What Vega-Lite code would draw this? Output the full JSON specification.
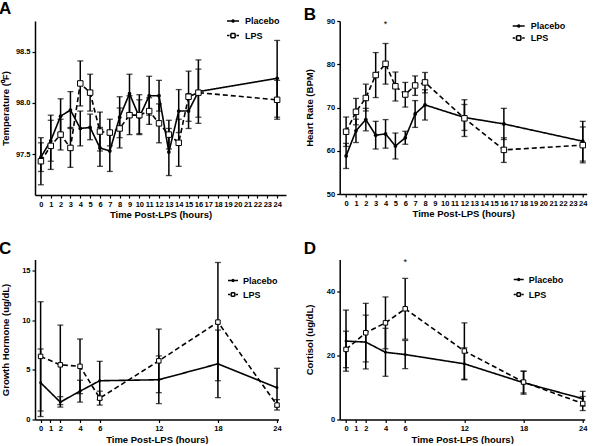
{
  "$schema": "https://vega.github.io/schema/vega-lite/v6.json",
  "padding": {"left": -1, "top": 0, "right": 0, "bottom": 0},
  "bounds": "flush",
  "columns": 2,
  "spacing": {"row": 64.5, "column": 53.7},
  "datasets": {
    "A": [
      {"t": 0, "g": "Placebo", "m": 97.47, "lo": 97.33, "hi": 97.61},
      {"t": 1, "g": "Placebo", "m": 97.63, "lo": 97.35, "hi": 97.88},
      {"t": 2, "g": "Placebo", "m": 97.87, "lo": 97.7, "hi": 98.04},
      {"t": 3, "g": "Placebo", "m": 97.93, "lo": 97.75, "hi": 98.11},
      {"t": 4, "g": "Placebo", "m": 97.75, "lo": 97.58, "hi": 97.92},
      {"t": 5, "g": "Placebo", "m": 97.76, "lo": 97.64, "hi": 97.89},
      {"t": 6, "g": "Placebo", "m": 97.56, "lo": 97.38, "hi": 97.76},
      {"t": 7, "g": "Placebo", "m": 97.53, "lo": 97.33, "hi": 97.73},
      {"t": 8, "g": "Placebo", "m": 97.86, "lo": 97.66, "hi": 98.06},
      {"t": 9, "g": "Placebo", "m": 98.09, "lo": 97.9, "hi": 98.28},
      {"t": 10, "g": "Placebo", "m": 97.86, "lo": 97.69, "hi": 98.03},
      {"t": 11, "g": "Placebo", "m": 98.07, "lo": 97.88, "hi": 98.26},
      {"t": 12, "g": "Placebo", "m": 98.07, "lo": 97.92, "hi": 98.22},
      {"t": 13, "g": "Placebo", "m": 97.52, "lo": 97.29, "hi": 97.75},
      {"t": 14, "g": "Placebo", "m": 97.92, "lo": 97.71, "hi": 98.13},
      {"t": 15, "g": "Placebo", "m": 97.92, "lo": 97.75, "hi": 98.09},
      {"t": 16, "g": "Placebo", "m": 98.11, "lo": 97.8, "hi": 98.42},
      {"t": 24, "g": "Placebo", "m": 98.24, "lo": 97.86, "hi": 98.61},
      {"t": 0, "g": "LPS", "m": 97.43, "lo": 97.2, "hi": 97.66},
      {"t": 1, "g": "LPS", "m": 97.58, "lo": 97.43, "hi": 97.83},
      {"t": 2, "g": "LPS", "m": 97.69, "lo": 97.54, "hi": 97.84},
      {"t": 3, "g": "LPS", "m": 97.56, "lo": 97.37, "hi": 97.76},
      {"t": 4, "g": "LPS", "m": 98.19, "lo": 97.97, "hi": 98.41},
      {"t": 5, "g": "LPS", "m": 98.1, "lo": 97.92, "hi": 98.28},
      {"t": 6, "g": "LPS", "m": 97.72, "lo": 97.53, "hi": 97.91},
      {"t": 7, "g": "LPS", "m": 97.71, "lo": 97.58, "hi": 97.84},
      {"t": 8, "g": "LPS", "m": 97.75, "lo": 97.56, "hi": 97.95},
      {"t": 9, "g": "LPS", "m": 97.88, "lo": 97.69, "hi": 98.07},
      {"t": 10, "g": "LPS", "m": 97.88, "lo": 97.7, "hi": 98.08},
      {"t": 11, "g": "LPS", "m": 97.92, "lo": 97.79, "hi": 98.05},
      {"t": 12, "g": "LPS", "m": 97.8, "lo": 97.61, "hi": 97.99},
      {"t": 13, "g": "LPS", "m": 97.69, "lo": 97.55, "hi": 97.83},
      {"t": 14, "g": "LPS", "m": 97.61, "lo": 97.38, "hi": 97.84},
      {"t": 15, "g": "LPS", "m": 98.06, "lo": 97.82, "hi": 98.31},
      {"t": 16, "g": "LPS", "m": 98.1, "lo": 97.86, "hi": 98.33},
      {"t": 24, "g": "LPS", "m": 98.03, "lo": 97.84, "hi": 98.22}
    ],
    "B": [
      {"t": 0, "g": "Placebo", "m": 58.8, "lo": 55.9, "hi": 61.7},
      {"t": 1, "g": "Placebo", "m": 64.6, "lo": 61.9, "hi": 67.3},
      {"t": 2, "g": "Placebo", "m": 67.2, "lo": 64.6, "hi": 69.8},
      {"t": 3, "g": "Placebo", "m": 63.6, "lo": 60.4, "hi": 66.8},
      {"t": 4, "g": "Placebo", "m": 63.9, "lo": 60.6, "hi": 67.2},
      {"t": 5, "g": "Placebo", "m": 61.1, "lo": 58.1, "hi": 64.1},
      {"t": 6, "g": "Placebo", "m": 63.0, "lo": 61.5, "hi": 64.5},
      {"t": 7, "g": "Placebo", "m": 68.5, "lo": 65.4, "hi": 71.6},
      {"t": 8, "g": "Placebo", "m": 70.6, "lo": 67.1, "hi": 74.1},
      {"t": 12, "g": "Placebo", "m": 67.7, "lo": 64.7, "hi": 70.7},
      {"t": 16, "g": "Placebo", "m": 66.2, "lo": 62.6, "hi": 69.8},
      {"t": 24, "g": "Placebo", "m": 62.2, "lo": 57.6, "hi": 66.8},
      {"t": 0, "g": "LPS", "m": 64.4, "lo": 61.0, "hi": 67.8},
      {"t": 1, "g": "LPS", "m": 69.0, "lo": 66.0, "hi": 72.1},
      {"t": 2, "g": "LPS", "m": 72.2, "lo": 69.2, "hi": 75.4},
      {"t": 3, "g": "LPS", "m": 77.5, "lo": 72.3, "hi": 82.7},
      {"t": 4, "g": "LPS", "m": 80.1, "lo": 75.4, "hi": 84.8},
      {"t": 5, "g": "LPS", "m": 74.9, "lo": 71.5, "hi": 78.2},
      {"t": 6, "g": "LPS", "m": 73.0, "lo": 70.1, "hi": 75.8},
      {"t": 7, "g": "LPS", "m": 75.1, "lo": 72.8, "hi": 77.3},
      {"t": 8, "g": "LPS", "m": 75.8, "lo": 73.4, "hi": 78.1},
      {"t": 12, "g": "LPS", "m": 67.5, "lo": 63.3, "hi": 71.8},
      {"t": 16, "g": "LPS", "m": 60.2, "lo": 57.3, "hi": 63.0},
      {"t": 24, "g": "LPS", "m": 61.3, "lo": 57.2, "hi": 65.5}
    ],
    "C": [
      {"t": 0, "g": "Placebo", "m": 3.7, "lo": 0.3, "hi": 7.1},
      {"t": 2, "g": "Placebo", "m": 1.75, "lo": 1.25, "hi": 2.3},
      {"t": 4, "g": "Placebo", "m": 2.85, "lo": 1.75, "hi": 3.95},
      {"t": 6, "g": "Placebo", "m": 3.9, "lo": 2.0, "hi": 5.85},
      {"t": 12, "g": "Placebo", "m": 4.0, "lo": 1.6, "hi": 6.4},
      {"t": 18, "g": "Placebo", "m": 5.6, "lo": 2.2, "hi": 9.0},
      {"t": 24, "g": "Placebo", "m": 3.2, "lo": 1.3, "hi": 5.15},
      {"t": 0, "g": "LPS", "m": 6.35, "lo": 0.85, "hi": 11.85},
      {"t": 2, "g": "LPS", "m": 5.5, "lo": 1.5, "hi": 9.5},
      {"t": 4, "g": "LPS", "m": 5.35, "lo": 2.6, "hi": 8.1},
      {"t": 6, "g": "LPS", "m": 2.15, "lo": 1.45, "hi": 2.85},
      {"t": 12, "g": "LPS", "m": 5.9, "lo": 2.7, "hi": 9.1},
      {"t": 18, "g": "LPS", "m": 9.8, "lo": 3.9, "hi": 15.8},
      {"t": 24, "g": "LPS", "m": 1.45, "lo": 0.95, "hi": 2.0}
    ],
    "D": [
      {"t": 0, "g": "Placebo", "m": 24.5, "lo": 15.1, "hi": 34.2},
      {"t": 2, "g": "Placebo", "m": 24.2, "lo": 15.8, "hi": 32.6},
      {"t": 4, "g": "Placebo", "m": 21.0, "lo": 13.5, "hi": 28.5},
      {"t": 6, "g": "Placebo", "m": 20.3, "lo": 15.9, "hi": 24.7},
      {"t": 12, "g": "Placebo", "m": 17.4, "lo": 12.4, "hi": 22.4},
      {"t": 18, "g": "Placebo", "m": 11.5, "lo": 7.9, "hi": 15.1},
      {"t": 24, "g": "Placebo", "m": 6.5, "lo": 4.2, "hi": 8.8},
      {"t": 0, "g": "LPS", "m": 21.9, "lo": 16.2, "hi": 27.6},
      {"t": 2, "g": "LPS", "m": 27.1, "lo": 18.0, "hi": 36.3},
      {"t": 4, "g": "LPS", "m": 30.2, "lo": 22.1, "hi": 38.3},
      {"t": 6, "g": "LPS", "m": 34.6, "lo": 25.1, "hi": 44.1},
      {"t": 12, "g": "LPS", "m": 21.4, "lo": 12.6, "hi": 30.2},
      {"t": 18, "g": "LPS", "m": 11.7, "lo": 8.3, "hi": 15.1},
      {"t": 24, "g": "LPS", "m": 5.0, "lo": 2.8, "hi": 7.2}
    ]
  },
  "concat": [
    {
      "width": 251, "height": 174,
      "title": {"text": "A", "anchor": "start", "frame": "group", "dx": -36, "offset": -4, "fontSize": 17, "fontWeight": "bold", "font": "Liberation Sans", "color": "black"},
      "data": {"name": "A"},
      "encoding": {
        "x": {"field": "t", "type": "quantitative", "title": "Time Post-LPS (hours)",
              "scale": {"domain": [-0.6, 24.9], "nice": false, "zero": false},
              "axis": {"values": [0,1,2,3,4,5,6,7,8,9,10,11,12,13,14,15,16,17,18,19,20,21,22,23,24], "format": "d"}}
      },
      "layer": [
        {"mark": {"type": "rule", "color": "black", "strokeWidth": 1.5},
         "encoding": {"y": {"field": "lo", "type": "quantitative", "title": "Temperature (⁰F)", "scale": {"domain": [97.1, 98.8], "nice": false, "zero": false}, "axis": {"values": [97.5, 98.0, 98.5], "format": ".1f"}}, "y2": {"field": "hi"}}},
        {"mark": {"type": "tick", "orient": "horizontal", "color": "black", "size": 6, "thickness": 1.3},
         "encoding": {"y": {"field": "lo", "type": "quantitative", "title": "Temperature (⁰F)"}}},
        {"mark": {"type": "tick", "orient": "horizontal", "color": "black", "size": 6, "thickness": 1.3},
         "encoding": {"y": {"field": "hi", "type": "quantitative", "title": "Temperature (⁰F)"}}},
        {"mark": {"type": "line", "color": "black", "strokeWidth": 1.6},
         "encoding": {"y": {"field": "m", "type": "quantitative", "title": "Temperature (⁰F)"},
                      "strokeDash": {"field": "g", "type": "nominal", "scale": {"domain": ["Placebo", "LPS"], "range": [[1, 0], [5, 3]]},
                        "legend": {"title": null, "orient": "none", "legendX": 191, "legendY": -7, "symbolSize": 144, "rowPadding": 2.6, "labelOffset": 5}}}},
        {"transform": [{"filter": "datum.g === 'Placebo'"}],
         "mark": {"type": "point", "shape": "circle", "filled": true, "color": "black", "size": 14, "opacity": 1},
         "encoding": {"y": {"field": "m", "type": "quantitative", "title": "Temperature (⁰F)"}}},
        {"transform": [{"filter": "datum.g === 'LPS'"}],
         "mark": {"type": "point", "shape": "square", "fill": "white", "stroke": "black", "strokeWidth": 1, "size": 30, "opacity": 1},
         "encoding": {"y": {"field": "m", "type": "quantitative", "title": "Temperature (⁰F)"}}},
        {"transform": [{"filter": "false"}],
         "mark": {"type": "point", "filled": false, "color": "black", "strokeWidth": 1.5, "opacity": 1},
         "encoding": {"y": {"field": "m", "type": "quantitative", "title": "Temperature (⁰F)"},
                      "shape": {"field": "g", "type": "nominal", "scale": {"domain": ["Placebo", "LPS"], "range": ["M-1,0H1M-0.17,0A0.17,0.17,0,1,1,0.17,0A0.17,0.17,0,1,1,-0.17,0Z", "M-1,0H-0.58M0.58,0H1M-0.36,-0.36H0.36M0.36,-0.36V0.36M0.36,0.36H-0.36M-0.36,0.36V-0.36"]},
                        "legend": {"title": null, "orient": "none", "legendX": 191, "legendY": -7, "symbolSize": 144, "rowPadding": 2.6, "labelOffset": 5}}}}
      ]
    },
    {
      "width": 247, "height": 173,
      "title": {"text": "B", "anchor": "start", "frame": "group", "dx": -36, "offset": -7, "fontSize": 17, "fontWeight": "bold", "font": "Liberation Sans", "color": "black"},
      "data": {"name": "B"},
      "encoding": {
        "x": {"field": "t", "type": "quantitative", "title": "Time Post-LPS (hours)",
              "scale": {"domain": [-0.65, 24.4], "nice": false, "zero": false},
              "axis": {"values": [0,1,2,3,4,5,6,7,8,9,10,11,12,13,14,15,16,17,18,19,20,21,22,23,24], "format": "d"}}
      },
      "layer": [
        {"mark": {"type": "rule", "color": "black", "strokeWidth": 1.5},
         "encoding": {"y": {"field": "lo", "type": "quantitative", "title": "Heart Rate  (BPM)", "scale": {"domain": [50, 90], "nice": false, "zero": false}, "axis": {"values": [50, 60, 70, 80, 90]}}, "y2": {"field": "hi"}}},
        {"mark": {"type": "tick", "orient": "horizontal", "color": "black", "size": 6, "thickness": 1.3},
         "encoding": {"y": {"field": "lo", "type": "quantitative", "title": "Heart Rate  (BPM)"}}},
        {"mark": {"type": "tick", "orient": "horizontal", "color": "black", "size": 6, "thickness": 1.3},
         "encoding": {"y": {"field": "hi", "type": "quantitative", "title": "Heart Rate  (BPM)"}}},
        {"mark": {"type": "line", "color": "black", "strokeWidth": 1.6},
         "encoding": {"y": {"field": "m", "type": "quantitative", "title": "Heart Rate  (BPM)"},
                      "strokeDash": {"field": "g", "type": "nominal", "scale": {"domain": ["Placebo", "LPS"], "range": [[1, 0], [5, 3]]},
                        "legend": {"title": null, "orient": "none", "legendX": 172, "legendY": -2, "symbolSize": 144, "rowPadding": 0, "labelOffset": 5}}}},
        {"transform": [{"filter": "datum.g === 'Placebo'"}],
         "mark": {"type": "point", "shape": "circle", "filled": true, "color": "black", "size": 14, "opacity": 1},
         "encoding": {"y": {"field": "m", "type": "quantitative", "title": "Heart Rate  (BPM)"}}},
        {"transform": [{"filter": "datum.g === 'LPS'"}],
         "mark": {"type": "point", "shape": "square", "fill": "white", "stroke": "black", "strokeWidth": 1, "size": 30, "opacity": 1},
         "encoding": {"y": {"field": "m", "type": "quantitative", "title": "Heart Rate  (BPM)"}}},
        {"transform": [{"filter": "false"}],
         "mark": {"type": "point", "filled": false, "color": "black", "strokeWidth": 1.5, "opacity": 1},
         "encoding": {"y": {"field": "m", "type": "quantitative", "title": "Heart Rate  (BPM)"},
                      "shape": {"field": "g", "type": "nominal", "scale": {"domain": ["Placebo", "LPS"], "range": ["M-1,0H1M-0.17,0A0.17,0.17,0,1,1,0.17,0A0.17,0.17,0,1,1,-0.17,0Z", "M-1,0H-0.58M0.58,0H1M-0.36,-0.36H0.36M0.36,-0.36V0.36M0.36,0.36H-0.36M-0.36,0.36V-0.36"]},
                        "legend": {"title": null, "orient": "none", "legendX": 172, "legendY": -2, "symbolSize": 144, "rowPadding": 0, "labelOffset": 5}}}},
        {"data": {"values": [{"t": 4, "v": 89.4, "s": "*"}]},
         "mark": {"type": "text", "fontSize": 9, "font": "Liberation Sans", "color": "black", "baseline": "middle"},
         "encoding": {"y": {"field": "v", "type": "quantitative", "title": "Heart Rate  (BPM)"}, "text": {"field": "s"}}}
      ]
    },
    {
      "width": 243.5, "height": 160,
      "title": {"text": "C", "anchor": "start", "frame": "group", "dx": -36, "offset": 1.5, "fontSize": 17, "fontWeight": "bold", "font": "Liberation Sans", "color": "black"},
      "data": {"name": "C"},
      "encoding": {
        "x": {"field": "t", "type": "quantitative", "title": "Time Post-LPS (hours)",
              "scale": {"domain": [-0.57, 24.15], "nice": false, "zero": false},
              "axis": {"values": [0, 1, 2, 4, 6, 12, 18, 24], "format": "d"}}
      },
      "layer": [
        {"mark": {"type": "rule", "color": "black", "strokeWidth": 1.5},
         "encoding": {"y": {"field": "lo", "type": "quantitative", "title": "Growth Hormone (ug/dL)", "scale": {"domain": [0, 16.1], "nice": false, "zero": false}, "axis": {"values": [0, 5, 10, 15]}}, "y2": {"field": "hi"}}},
        {"mark": {"type": "tick", "orient": "horizontal", "color": "black", "size": 6, "thickness": 1.3},
         "encoding": {"y": {"field": "lo", "type": "quantitative", "title": "Growth Hormone (ug/dL)"}}},
        {"mark": {"type": "tick", "orient": "horizontal", "color": "black", "size": 6, "thickness": 1.3},
         "encoding": {"y": {"field": "hi", "type": "quantitative", "title": "Growth Hormone (ug/dL)"}}},
        {"mark": {"type": "line", "color": "black", "strokeWidth": 1.6},
         "encoding": {"y": {"field": "m", "type": "quantitative", "title": "Growth Hormone (ug/dL)"},
                      "strokeDash": {"field": "g", "type": "nominal", "scale": {"domain": ["Placebo", "LPS"], "range": [[1, 0], [5, 3]]},
                        "legend": {"title": null, "orient": "none", "legendX": 192, "legendY": 15, "symbolSize": 100, "rowPadding": 3, "labelOffset": 4}}}},
        {"transform": [{"filter": "datum.g === 'Placebo'"}],
         "mark": {"type": "point", "shape": "circle", "filled": true, "color": "black", "size": 8, "opacity": 1},
         "encoding": {"y": {"field": "m", "type": "quantitative", "title": "Growth Hormone (ug/dL)"}}},
        {"transform": [{"filter": "datum.g === 'LPS'"}],
         "mark": {"type": "point", "shape": "square", "fill": "white", "stroke": "black", "strokeWidth": 1, "size": 20, "opacity": 1},
         "encoding": {"y": {"field": "m", "type": "quantitative", "title": "Growth Hormone (ug/dL)"}}},
        {"transform": [{"filter": "false"}],
         "mark": {"type": "point", "filled": false, "color": "black", "strokeWidth": 1.3, "opacity": 1},
         "encoding": {"y": {"field": "m", "type": "quantitative", "title": "Growth Hormone (ug/dL)"},
                      "shape": {"field": "g", "type": "nominal", "scale": {"domain": ["Placebo", "LPS"], "range": ["M-1,0H1M-0.18,0A0.18,0.18,0,1,1,0.18,0A0.18,0.18,0,1,1,-0.18,0Z", "M-1,0H-0.58M0.58,0H1M-0.36,-0.36H0.36M0.36,-0.36V0.36M0.36,0.36H-0.36M-0.36,0.36V-0.36"]},
                        "legend": {"title": null, "orient": "none", "legendX": 192, "legendY": 15, "symbolSize": 100, "rowPadding": 3, "labelOffset": 4}}}}
      ]
    },
    {
      "width": 245, "height": 160,
      "title": {"text": "D", "anchor": "start", "frame": "group", "dx": -36, "offset": 0.5, "fontSize": 17, "fontWeight": "bold", "font": "Liberation Sans", "color": "black"},
      "data": {"name": "D"},
      "encoding": {
        "x": {"field": "t", "type": "quantitative", "title": "Time Post-LPS (hours)",
              "scale": {"domain": [-0.64, 24.2], "nice": false, "zero": false},
              "axis": {"values": [0, 1, 2, 4, 6, 12, 18, 24], "format": "d"}}
      },
      "layer": [
        {"mark": {"type": "rule", "color": "black", "strokeWidth": 1.5},
         "encoding": {"y": {"field": "lo", "type": "quantitative", "title": "Cortisol (ug/dL)", "scale": {"domain": [0, 50], "nice": false, "zero": false}, "axis": {"values": [0, 10, 20, 30, 40, 50]}}, "y2": {"field": "hi"}}},
        {"mark": {"type": "tick", "orient": "horizontal", "color": "black", "size": 6, "thickness": 1.3},
         "encoding": {"y": {"field": "lo", "type": "quantitative", "title": "Cortisol (ug/dL)"}}},
        {"mark": {"type": "tick", "orient": "horizontal", "color": "black", "size": 6, "thickness": 1.3},
         "encoding": {"y": {"field": "hi", "type": "quantitative", "title": "Cortisol (ug/dL)"}}},
        {"mark": {"type": "line", "color": "black", "strokeWidth": 1.6},
         "encoding": {"y": {"field": "m", "type": "quantitative", "title": "Cortisol (ug/dL)"},
                      "strokeDash": {"field": "g", "type": "nominal", "scale": {"domain": ["Placebo", "LPS"], "range": [[1, 0], [5, 3]]},
                        "legend": {"title": null, "orient": "none", "legendX": 173, "legendY": 14, "symbolSize": 100, "rowPadding": 4, "labelOffset": 4}}}},
        {"transform": [{"filter": "datum.g === 'Placebo'"}],
         "mark": {"type": "point", "shape": "circle", "filled": true, "color": "black", "size": 8, "opacity": 1},
         "encoding": {"y": {"field": "m", "type": "quantitative", "title": "Cortisol (ug/dL)"}}},
        {"transform": [{"filter": "datum.g === 'LPS'"}],
         "mark": {"type": "point", "shape": "square", "fill": "white", "stroke": "black", "strokeWidth": 1, "size": 20, "opacity": 1},
         "encoding": {"y": {"field": "m", "type": "quantitative", "title": "Cortisol (ug/dL)"}}},
        {"transform": [{"filter": "false"}],
         "mark": {"type": "point", "filled": false, "color": "black", "strokeWidth": 1.3, "opacity": 1},
         "encoding": {"y": {"field": "m", "type": "quantitative", "title": "Cortisol (ug/dL)"},
                      "shape": {"field": "g", "type": "nominal", "scale": {"domain": ["Placebo", "LPS"], "range": ["M-1,0H1M-0.18,0A0.18,0.18,0,1,1,0.18,0A0.18,0.18,0,1,1,-0.18,0Z", "M-1,0H-0.58M0.58,0H1M-0.36,-0.36H0.36M0.36,-0.36V0.36M0.36,0.36H-0.36M-0.36,0.36V-0.36"]},
                        "legend": {"title": null, "orient": "none", "legendX": 173, "legendY": 14, "symbolSize": 100, "rowPadding": 4, "labelOffset": 4}}}},
        {"data": {"values": [{"t": 6, "v": 49.2, "s": "*"}]},
         "mark": {"type": "text", "fontSize": 9, "font": "Liberation Sans", "color": "black", "baseline": "middle"},
         "encoding": {"y": {"field": "v", "type": "quantitative", "title": "Cortisol (ug/dL)"}, "text": {"field": "s"}}}
      ]
    }
  ],
  "resolve": {
    "scale": {"strokeDash": "independent", "shape": "independent"},
    "legend": {"strokeDash": "independent", "shape": "independent"}
  },
  "config": {
    "view": {"stroke": null},
    "axis": {
      "domainColor": "black", "domainWidth": 1.5, "tickColor": "black", "tickWidth": 1.2, "tickSize": 3,
      "labelFont": "Liberation Sans", "labelFontWeight": "bold", "labelFontSize": 7.5, "labelColor": "black", "labelPadding": 2,
      "titleFont": "Liberation Sans", "titleFontWeight": "bold", "titleFontSize": 9.5, "titleColor": "black",
      "grid": false, "labelOverlap": false, "labelFlush": false
    },
    "axisY": {"minExtent": 19, "maxExtent": 19, "titlePadding": 6},
    "axisX": {"titlePadding": 2},
    "legend": {"labelFont": "Liberation Sans", "labelFontWeight": "bold", "labelFontSize": 9, "labelColor": "black", "padding": 0, "symbolStrokeColor": "black", "symbolStrokeWidth": 1.5}
  }
}
